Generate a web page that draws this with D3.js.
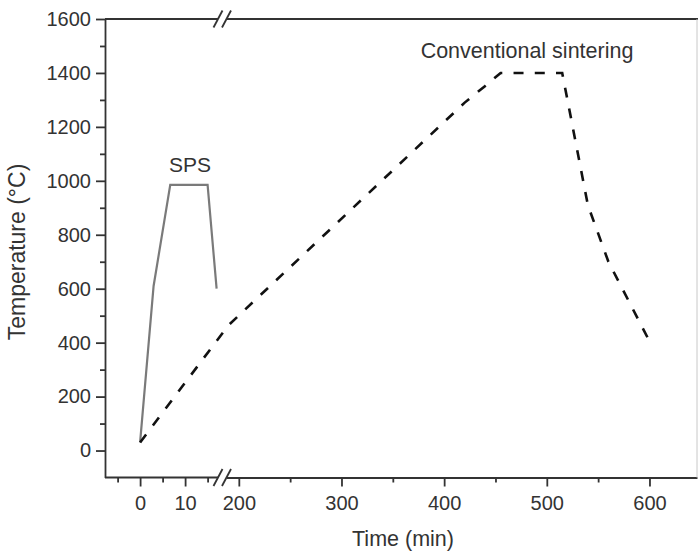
<!DOCTYPE html>
<html>
<head>
<meta charset="utf-8">
<script src="https://cdn.jsdelivr.net/npm/d3@7"></script>
<style>
  body { margin: 0; background: #fff; }
  svg text { font-family: "Liberation Sans", Arial, sans-serif; fill: #333; }
  .axis path, .axis line { stroke: #333; stroke-width: 1.8; }
</style>
</head>
<body>
<div id="chart"></div>
<script>
// SPS cycle (solid grey)
var spsTime = [0, 3, 6.7, 15, 17];
var spsTemp = [30, 610, 985, 985, 600];

// conventional sintering cycle (dashed black)
var convTime = [0, 190, 420, 440, 455, 515, 540, 560, 598];
var convTemp = [30, 465, 1290, 1352, 1400, 1400, 910, 700, 420];

// tick values
var yMajor = [0, 200, 400, 600, 800, 1000, 1200, 1400, 1600];
var yMinor = [100, 300, 500, 700, 900, 1100, 1300, 1500];
var xLeftMajor = [0, 10];
var xLeftMinor = [-5, 5, 15];
var xRightMajor = [200, 300, 400, 500, 600];
var xRightMinor = [250, 350, 450, 550];

var svgWidth = 698;
var svgHeight = 557;

var plot = { left: 105, top: 19, bottom: 477.5, right: 697 };
var breakA = 218, breakB = 226.5;   // the two "//" marks

var svg = d3.select("#chart")
  .append("svg")
  .attr("width", svgWidth)
  .attr("height", svgHeight);

// scales: broken x axis, two linear pieces
var yScale = d3.scaleLinear()
  .domain([-100, 1600])
  .range([plot.bottom, plot.top]);

var xLeft = d3.scaleLinear()
  .domain([-7.8, 17.2])
  .range([plot.left, plot.left + 25 * 4.5]);

var xRight = d3.scaleLinear()
  .domain([188, 646.3])
  .range([breakB, plot.right]);

function xPos(t) {
  return t < 100 ? xLeft(t) : xRight(t);
}

var fmt = d3.format("d");

// y axis
svg.append("g")
  .attr("class", "axis")
  .attr("transform", `translate(${plot.left},0)`)
  .call(d3.axisLeft(yScale).tickValues(yMajor).tickFormat(fmt).tickSize(9).tickPadding(5).tickSizeOuter(0))
  .call(g => g.selectAll("text").attr("font-size", "20px"));

svg.append("g")
  .attr("class", "axis")
  .attr("transform", `translate(${plot.left},0)`)
  .call(d3.axisLeft(yScale).tickValues(yMinor).tickSize(5).tickFormat("").tickSizeOuter(0))
  .call(g => g.select(".domain").remove());

// bottom axis, left piece
var bottomLeft = svg.append("g")
  .attr("class", "axis")
  .attr("transform", `translate(0,${plot.bottom})`)
  .call(d3.axisBottom(xLeft).tickValues(xLeftMajor).tickFormat(fmt).tickSize(9).tickPadding(9).tickSizeOuter(0))
  .call(g => g.selectAll("text").attr("font-size", "20px"));

svg.append("g")
  .attr("class", "axis")
  .attr("transform", `translate(0,${plot.bottom})`)
  .call(d3.axisBottom(xLeft).tickValues(xLeftMinor).tickSize(5).tickFormat("").tickSizeOuter(0))
  .call(g => g.select(".domain").remove());

// bottom axis, right piece
svg.append("g")
  .attr("class", "axis")
  .attr("transform", `translate(0,${plot.bottom})`)
  .call(d3.axisBottom(xRight).tickValues(xRightMajor).tickFormat(fmt).tickSize(9).tickPadding(9).tickSizeOuter(0))
  .call(g => g.selectAll("text").attr("font-size", "20px"));

svg.append("g")
  .attr("class", "axis")
  .attr("transform", `translate(0,${plot.bottom})`)
  .call(d3.axisBottom(xRight).tickValues(xRightMinor).tickSize(5).tickFormat("").tickSizeOuter(0))
  .call(g => g.select(".domain").remove());

// fix the left piece so its line reaches the first break mark
bottomLeft.select(".domain").attr("d", `M${plot.left},0H${breakA}`);

// top frame line with the same break
svg.append("line")
  .attr("x1", plot.left).attr("x2", breakA)
  .attr("y1", plot.top).attr("y2", plot.top)
  .attr("stroke", "#333").attr("stroke-width", 1.8);
svg.append("line")
  .attr("x1", breakB).attr("x2", plot.right + 1)
  .attr("y1", plot.top).attr("y2", plot.top)
  .attr("stroke", "#333").attr("stroke-width", 1.8);

// faint right frame edge
svg.append("line")
  .attr("x1", plot.right).attr("x2", plot.right)
  .attr("y1", plot.top).attr("y2", plot.bottom)
  .attr("stroke", "#c8c8c8").attr("stroke-width", 1);

// break marks "//"
[plot.top, plot.bottom].forEach(function(yb) {
  [breakA, breakB].forEach(function(xb) {
    svg.append("line")
      .attr("x1", xb - 4.5).attr("y1", yb + 8.5)
      .attr("x2", xb + 4.5).attr("y2", yb - 8.5)
      .attr("stroke", "#333").attr("stroke-width", 1.8);
  });
});

// lines
var spsData = spsTime.map((t, i) => ({ t: t, v: spsTemp[i] }));
var convData = convTime.map((t, i) => ({ t: t, v: convTemp[i] }));

var line = d3.line()
  .x(d => xPos(d.t))
  .y(d => yScale(d.v));

svg.append("path")
  .datum(spsData)
  .attr("d", line)
  .attr("fill", "none")
  .attr("stroke", "#7a7a7a")
  .attr("stroke-width", 2.2)
  .attr("stroke-linejoin", "miter");

var convPath = svg.append("path")
  .datum(convData)
  .attr("d", line)
  .attr("fill", "none")
  .attr("stroke", "#111")
  .attr("stroke-width", 2.6);

// stretch the dash period a little so the line ends on a dash
var dash = 10;
var len = convPath.node().getTotalLength();
var n = Math.round((len - dash) / 21.5);
var gap = (len - dash) / n - dash;
convPath.attr("stroke-dasharray", dash + "," + gap);

// annotations
svg.append("text")
  .attr("x", 190)
  .attr("y", 172)
  .attr("text-anchor", "middle")
  .attr("font-size", "21px")
  .text("SPS");

svg.append("text")
  .attr("x", 527)
  .attr("y", 58)
  .attr("text-anchor", "middle")
  .attr("font-size", "21.5px")
  .text("Conventional sintering");

// axis titles
svg.append("text")
  .attr("x", 403)
  .attr("y", 546)
  .attr("text-anchor", "middle")
  .attr("font-size", "21.5px")
  .text("Time (min)");

svg.append("text")
  .attr("transform", "translate(25,252) rotate(-90)")
  .attr("text-anchor", "middle")
  .attr("font-size", "23px")
  .text("Temperature (°C)");
</script>
</body>
</html>
